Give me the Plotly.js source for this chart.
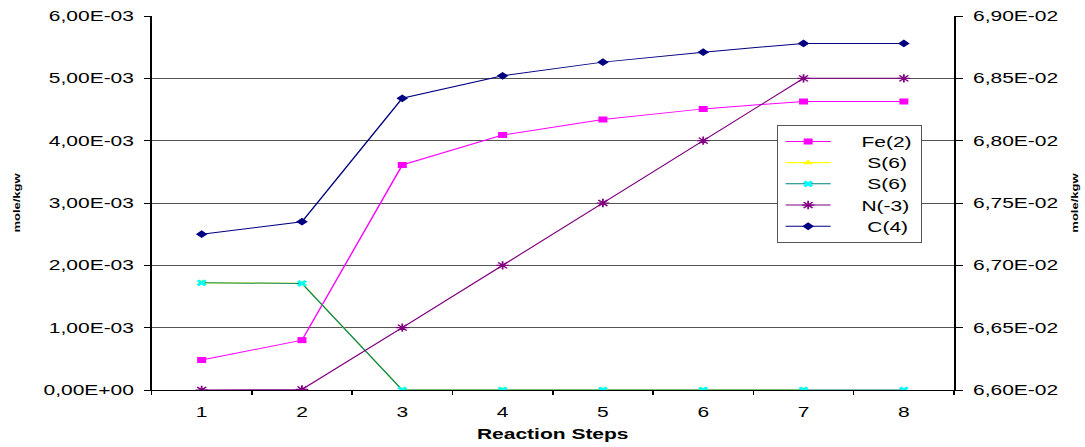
<!DOCTYPE html>
<html>
<head>
<meta charset="utf-8">
<script src="https://cdn.plot.ly/plotly-3.0.1.min.js"></script>
<style>
  html, body { margin: 0; padding: 0; background: #fff; overflow: hidden; }
  #wrap { width: 1085px; height: 447px; overflow: hidden; position: relative; }
  #chart { transform: scaleX(1.5); transform-origin: 0 0; }
  #chart .g-ytitle, #chart .g-y2title {
    transform-box: fill-box; transform-origin: center; transform: scaleX(0.5);
  }
</style>
</head>
<body>
<div id="wrap"><div id="chart"></div></div>
<script>
// ---- data ----
const steps = ['1', '2', '3', '4', '5', '6', '7', '8'];
const fe2   = [0.48e-3, 0.80e-3, 3.61e-3, 4.09e-3, 4.34e-3, 4.51e-3, 4.63e-3, 4.63e-3];
const s6a   = [1.72e-3, 1.71e-3, 0, 0, 0, 0, 0, null];
const s6b   = [1.72e-3, 1.71e-3, 0, 0, 0, 0, 0, 0];
const n3    = [0, 0.01e-3, 1.0e-3, 2.0e-3, 3.0e-3, 4.0e-3, 5.0e-3, 5.0e-3];
const c4    = [6.725e-2, 6.735e-2, 6.834e-2, 6.852e-2, 6.863e-2, 6.871e-2, 6.878e-2, 6.878e-2];

const leftTickVals  = [0, 1e-3, 2e-3, 3e-3, 4e-3, 5e-3, 6e-3];
const leftTickText  = ['0,00E+00', '1,00E-03', '2,00E-03', '3,00E-03', '4,00E-03', '5,00E-03', '6,00E-03'];
const rightTickVals = [6.60e-2, 6.65e-2, 6.70e-2, 6.75e-2, 6.80e-2, 6.85e-2, 6.90e-2];
const rightTickText = ['6,60E-02', '6,65E-02', '6,70E-02', '6,75E-02', '6,80E-02', '6,85E-02', '6,90E-02'];
const names = ['Fe(2)', 'S(6)', 'S(6)', 'N(-3)', 'C(4)'];
const xTitle = 'Reaction Steps';
const yTitle = 'mole/kgw';

// ---- layout constants ----
const SX = 1.5;
const W = 1085 / SX, H = 447;
const FONT = 'Liberation Sans, Arial, sans-serif';
const NB = '\u00a0';
const pad = (s, n) => NB.repeat(n) + s;

const traces = [
  { x: steps, y: fe2, name: pad(names[0], 4), type: 'scatter', mode: 'lines+markers',
    line: { color: '#FF00FF', width: 1 }, marker: { symbol: 'square', size: 6, color: '#FF00FF' } },
  { x: steps, y: s6a, name: pad(names[1], 5), type: 'scatter', mode: 'lines+markers',
    line: { color: '#FFFF00', width: 1.2 }, marker: { symbol: 'triangle-up', size: 6, color: '#FFFF00' } },
  { x: steps, y: s6b, name: pad(names[2], 5), type: 'scatter', mode: 'lines+markers',
    line: { color: '#008080', width: 1 }, marker: { symbol: 'x', size: 6, color: '#00FFFF' } },
  { x: steps, y: n3, name: pad(names[3], 4), type: 'scatter', mode: 'lines+markers',
    line: { color: '#800080', width: 1 },
    marker: { symbol: 'asterisk-open', size: 7, color: '#800080', line: { color: '#800080', width: 1.2 } } },
  { x: steps, y: c4, name: pad(names[4], 5), type: 'scatter', mode: 'lines+markers', yaxis: 'y2',
    line: { color: '#000080', width: 1 }, marker: { symbol: 'diamond', size: 6, color: '#000080' } }
];

const layout = {
  width: W, height: H,
  margin: { l: 152 / SX, r: (1085 - 954) / SX, t: 16, b: 57 },
  paper_bgcolor: '#fff', plot_bgcolor: '#fff',
  font: { family: FONT, size: 14, color: '#000' },
  showlegend: true,
  legend: {
    x: 0.779, y: 0.709, xanchor: 'left', yanchor: 'top',
    bgcolor: '#fff', bordercolor: '#555', borderwidth: 1,
    font: { family: FONT, size: 14, color: '#000' },
    tracegroupgap: 0, itemwidth: 30
  },
  xaxis: {
    type: 'category', range: [-0.5, 7.5], tickson: 'boundaries',
    ticks: 'outside', ticklen: 4, tickcolor: '#000', tickwidth: 1,
    ticklabelstandoff: 9,
    showline: true, linecolor: '#000', linewidth: 1, showgrid: false, zeroline: false,
    tickfont: { family: FONT, size: 14, color: '#000' },
    title: { text: xTitle, font: { family: FONT, size: 14, color: '#000', weight: 'bold' }, standoff: 10 }
  },
  yaxis: {
    range: [0, 6e-3], tickvals: leftTickVals, ticktext: leftTickText.map(t => t + NB),
    ticks: 'outside', ticklen: 4, tickcolor: '#000', tickwidth: 1,
    showline: true, linecolor: '#000', linewidth: 1,
    showgrid: true, gridcolor: '#555', gridwidth: 1, zeroline: false,
    tickfont: { family: FONT, size: 14, color: '#000' },
    title: { text: yTitle, font: { family: FONT, size: 13, color: '#000', weight: 'bold' }, standoff: 9 }
  },
  yaxis2: {
    overlaying: 'y', side: 'right', anchor: 'x',
    range: [6.60e-2, 6.90e-2], tickvals: rightTickVals, ticktext: rightTickText.map(t => NB + t),
    ticks: 'outside', ticklen: 5, tickcolor: '#000', tickwidth: 1,
    showline: true, linecolor: '#000', linewidth: 1, showgrid: false, zeroline: false,
    tickfont: { family: FONT, size: 14, color: '#000' },
    title: { text: yTitle, font: { family: FONT, size: 13, color: '#000', weight: 'bold' }, standoff: 6.5 }
  },
  yaxis3: {
    overlaying: 'y', side: 'right', anchor: 'x',
    range: [6.60e-2, 6.90e-2], tickvals: rightTickVals,
    ticks: 'inside', ticklen: 5, tickcolor: '#000', tickwidth: 1,
    showticklabels: false, showline: false, showgrid: false, zeroline: false
  }
};

Plotly.newPlot('chart', traces, layout, { displayModeBar: false, staticPlot: true });
</script>
</body>
</html>
